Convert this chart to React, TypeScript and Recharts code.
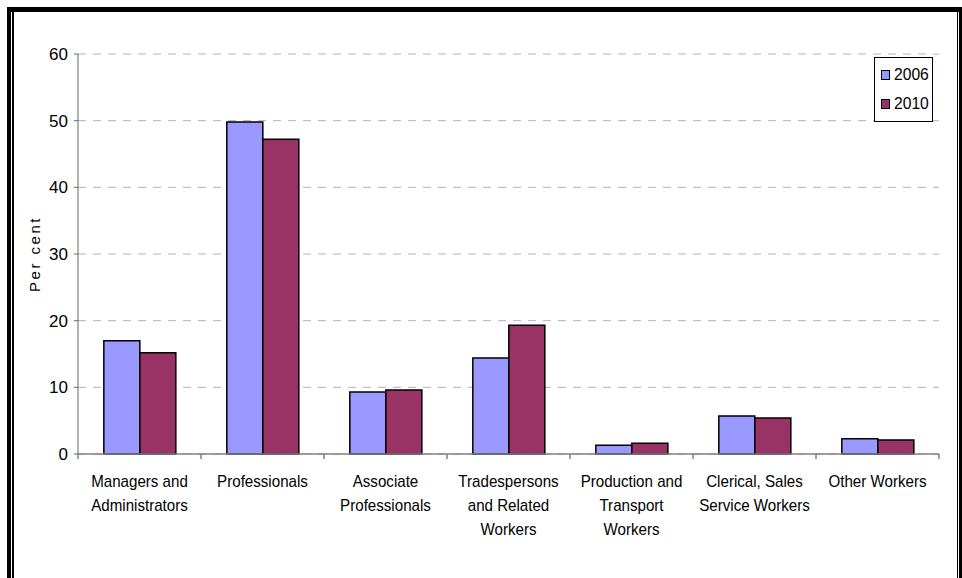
import { BarChart, Bar, XAxis, YAxis, CartesianGrid } from "recharts";

const categories = [
  "Managers and\nAdministrators",
  "Professionals",
  "Associate\nProfessionals",
  "Tradespersons\nand Related\nWorkers",
  "Production and\nTransport\nWorkers",
  "Clerical, Sales\nService Workers",
  "Other Workers",
];
const values2006 = [17.0, 49.8, 9.3, 14.4, 1.3, 5.7, 2.3];
const values2010 = [15.2, 47.2, 9.6, 19.3, 1.6, 5.4, 2.1];
const seriesNames = ["2006", "2010"];
const seriesColors = ["#9999FF", "#993366"];
const yTicks = [0, 10, 20, 30, 40, 50, 60];

const data = categories.map((name, i) => ({
  name,
  y2006: values2006[i],
  y2010: values2010[i],
}));

const FONT = "'Liberation Sans', Arial, sans-serif";

const CategoryTick = (props: any) => {
  const { x, y, payload, index, visibleTicksCount } = props;
  const half = payload.offset ?? 61.5;
  const lines = String(payload.value).split("\n");
  return (
    <g>
      <line x1={x - half} y1={y} x2={x - half} y2={y + 5} stroke="#808080" strokeWidth={1.5} />
      {index === visibleTicksCount - 1 && (
        <line x1={x + half} y1={y} x2={x + half} y2={y + 5} stroke="#808080" strokeWidth={1.5} />
      )}
      <g transform={`translate(${x},${y})`}>
        <text transform="scale(0.89,1)" textAnchor="middle" fontSize={17} fill="#000" fontFamily={FONT}>
          {lines.map((l, k) => (
            <tspan key={k} x={0} y={33 + k * 24}>
              {l}
            </tspan>
          ))}
        </text>
      </g>
    </g>
  );
};

const YLabel = (props: any) => {
  const vb = props.viewBox || { x: 0, y: 0, width: 0, height: 0 };
  const cx = vb.x + 34;
  const cy = vb.y + vb.height / 2;
  return (
    <text
      x={cx}
      y={cy}
      transform={`rotate(-90 ${cx} ${cy})`}
      textAnchor="middle"
      dominantBaseline="central"
      fontSize={15}
      letterSpacing={2.5}
      fill="#000"
      fontFamily={FONT}
    >
      Per cent
    </text>
  );
};

export default function App() {
  return (
    <div
      style={{
        position: "absolute",
        left: 0,
        top: 0,
        width: 962,
        height: 578,
        background: "#fff",
        overflow: "hidden",
        fontFamily: FONT,
      }}
    >
      <BarChart
        width={962}
        height={578}
        data={data}
        margin={{ top: 54, right: 23, bottom: 24, left: 0 }}
        barCategoryGap="21%"
        barGap={0}
      >
        <CartesianGrid vertical={false} stroke="#b3b3b3" strokeDasharray="8 7" />
        <XAxis
          dataKey="name"
          height={100}
          interval={0}
          tickLine={false}
          tickSize={0}
          tickMargin={0}
          stroke="#808080"
          strokeWidth={1.5}
          tick={<CategoryTick />}
        />
        <YAxis
          width={78}
          domain={[0, 60]}
          ticks={yTicks}
          interval={0}
          tickSize={4}
          tickMargin={6}
          stroke="#666"
          tick={{ fill: "#000", fontSize: 17, fontFamily: FONT }}
          label={<YLabel />}
        />
        <Bar dataKey="y2006" name={seriesNames[0]} fill={seriesColors[0]} stroke="#000" strokeWidth={1.5} isAnimationActive={false} />
        <Bar dataKey="y2010" name={seriesNames[1]} fill={seriesColors[1]} stroke="#000" strokeWidth={1.5} isAnimationActive={false} />
      </BarChart>

      {/* legend */}
      <div
        style={{
          position: "absolute",
          left: 874,
          top: 57,
          width: 57,
          height: 63,
          border: "1px solid #000",
          background: "#fff",
          boxSizing: "content-box",
        }}
      >
        {seriesNames.map((s, i) => (
          <div
            key={s}
            style={{
              position: "absolute",
              left: 6,
              top: 8 + i * 29,
              display: "flex",
              alignItems: "center",
              fontSize: 17,
              lineHeight: "18px",
            }}
          >
            <span
              style={{
                display: "inline-block",
                width: 7,
                height: 8,
                background: seriesColors[i],
                border: "1px solid #000",
                marginRight: 4,
              }}
            />
            <span style={{ transform: "scale(0.92,1)", transformOrigin: "left center", display: "inline-block" }}>{s}</span>
          </div>
        ))}
      </div>

      {/* frame */}
      <div style={{ position: "absolute", left: 7, top: 7, width: 4, height: 571, background: "#000" }} />
      <div style={{ position: "absolute", left: 12, top: 12, width: 1.5, height: 566, background: "#000" }} />
      <div style={{ position: "absolute", left: 7, top: 7, width: 955, height: 5, background: "#000" }} />
      <div style={{ position: "absolute", left: 956.5, top: 11, width: 1.5, height: 567, background: "#000" }} />
      <div style={{ position: "absolute", left: 959, top: 7, width: 3, height: 571, background: "#000" }} />
    </div>
  );
}
